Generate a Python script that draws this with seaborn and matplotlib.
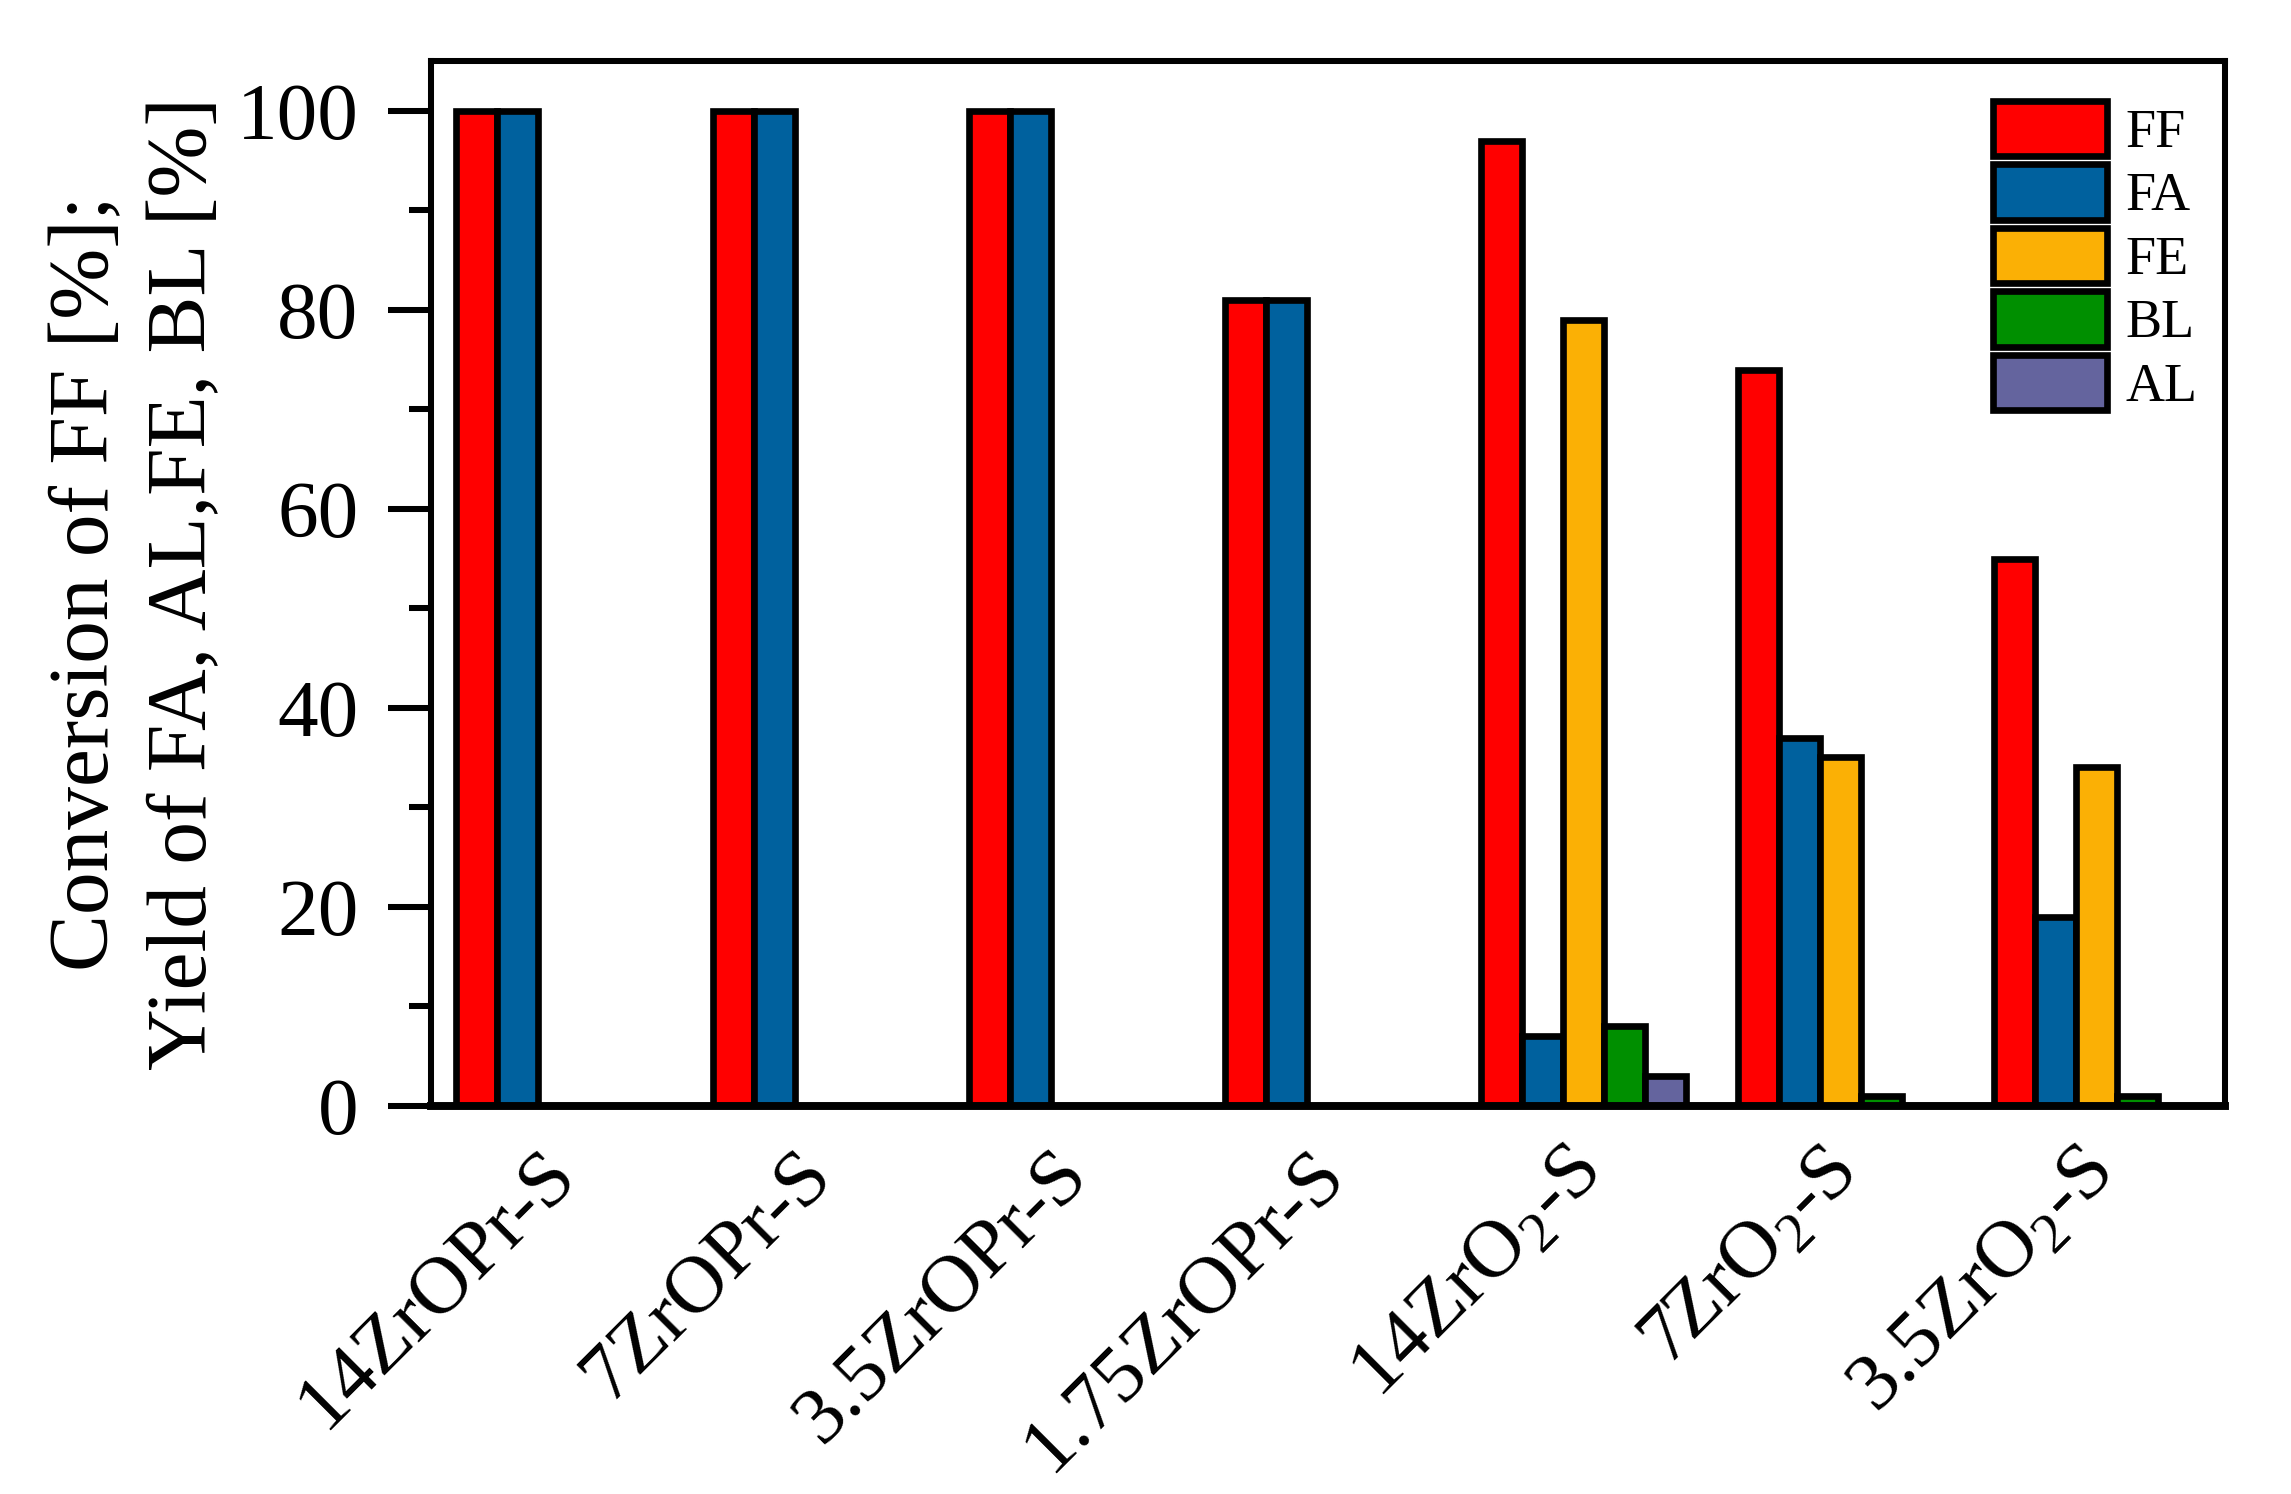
import matplotlib
matplotlib.use("Agg")
import matplotlib.pyplot as plt
import matplotlib.transforms as mtransforms
from matplotlib.ticker import MultipleLocator
import seaborn as sns
import pandas as pd
import numpy as np

catalysts = ["14ZrOPr-S", "7ZrOPr-S", "3.5ZrOPr-S", "1.75ZrOPr-S",
             "14ZrO2-S", "7ZrO2-S", "3.5ZrO2-S"]
tick_labels = ["14ZrOPr-S", "7ZrOPr-S", "3.5ZrOPr-S", "1.75ZrOPr-S",
               "14ZrO$_\\mathregular{2}$-S", "7ZrO$_\\mathregular{2}$-S",
               "3.5ZrO$_\\mathregular{2}$-S"]
products = ["FF", "FA", "FE", "BL", "AL"]
ff = [100, 100, 100, 81, 97, 74, 55]
fa = [100, 100, 100, 81, 7, 37, 19]
fe = [np.nan, np.nan, np.nan, np.nan, 79, 35, 34]
bl = [np.nan, np.nan, np.nan, np.nan, 8, 1, 1]
al = [np.nan, np.nan, np.nan, np.nan, 3, np.nan, np.nan]
colors = ["#ff0000", "#00619e", "#fbb005", "#008f00", "#64649e"]

df = pd.DataFrame({"catalyst": catalysts, "FF": ff, "FA": fa, "FE": fe, "BL": bl, "AL": al})
long_df = df.melt(id_vars="catalyst", var_name="product", value_name="value").dropna()

sns.set_style("ticks")
plt.rcParams["font.family"] = ["Liberation Serif", "DejaVu Serif"]
plt.rcParams["mathtext.fontset"] = "custom"
plt.rcParams["mathtext.rm"] = "Liberation Serif"
for key in ["text.color", "axes.labelcolor", "xtick.color", "ytick.color", "axes.edgecolor"]:
    plt.rcParams[key] = "black"

fig = plt.figure(figsize=(2291 / 300, 1494 / 300), dpi=300)
ax = fig.add_axes([0.188, 0.260, 0.783, 0.699])

sns.barplot(data=long_df, x="catalyst", y="value", hue="product",
            order=catalysts, hue_order=products, palette=colors,
            saturation=1, width=0.8, errorbar=None,
            edgecolor="black", linewidth=1.6, ax=ax)

ax.set_xlim(-0.5, 6.5)
ax.set_ylim(0, 105)
ax.yaxis.set_major_locator(MultipleLocator(20))
ax.yaxis.set_minor_locator(MultipleLocator(10))
ax.tick_params(axis="y", which="major", length=10.3, width=1.45, labelsize=19.5, pad=7)
ax.tick_params(axis="y", which="minor", length=5.3, width=1.45)
ax.tick_params(axis="x", length=0, pad=0)
for s in ax.spines.values():
    s.set_linewidth(1.45)
ax.spines["bottom"].set_linewidth(1.9)

ax.set_xticks(range(len(catalysts)))
ax.set_xticklabels(tick_labels, rotation=45, ha="right", va="center",
                   rotation_mode="anchor", fontsize=19.5)
offset = mtransforms.ScaledTranslation(0.02, -0.19, fig.dpi_scale_trans)
for lbl in ax.get_xticklabels():
    lbl.set_transform(lbl.get_transform() + offset)

ax.set_xlabel("")
ax.set_ylabel("Conversion of FF [%];\nYield of FA, AL,FE, BL [%]",
              fontsize=20.5, multialignment="center", labelpad=3, linespacing=1.35)

ax.legend(loc="upper right", bbox_to_anchor=(0.985, 0.962), frameon=False,
          fontsize=13, handlelength=2.1, handleheight=1.2, handletextpad=0.35,
          labelspacing=0.1, borderaxespad=0, borderpad=0)

fig.savefig("out.png", dpi=300)
